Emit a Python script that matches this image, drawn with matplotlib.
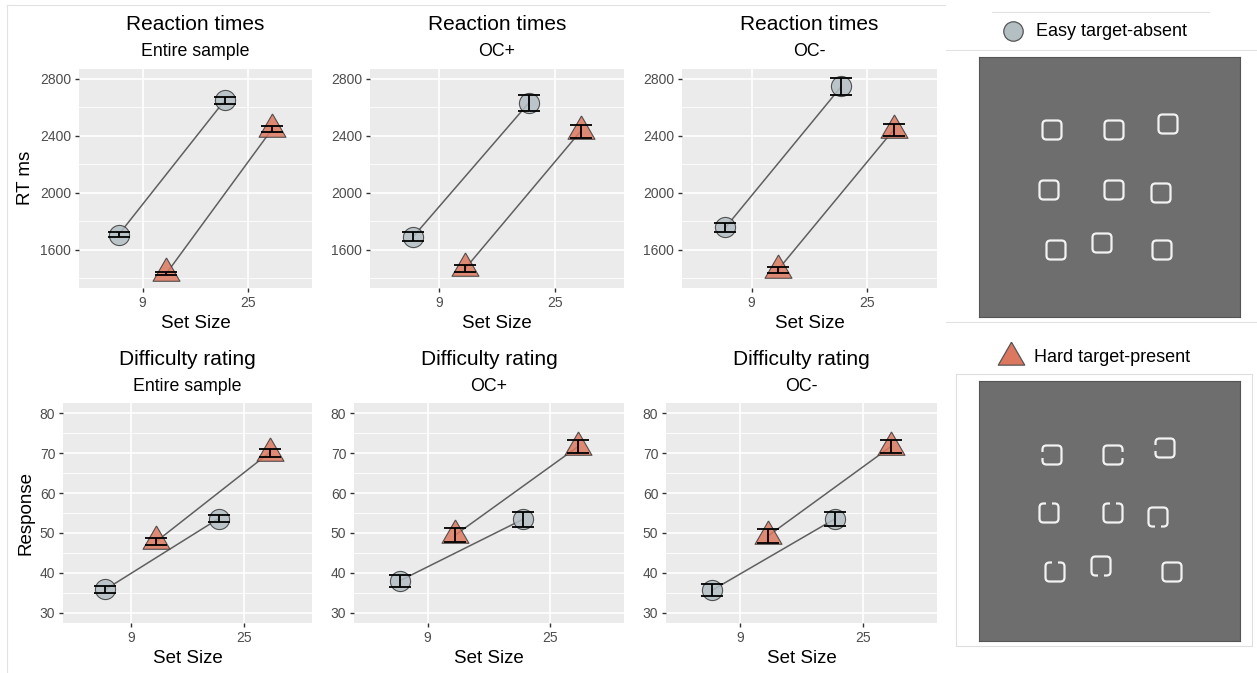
import numpy as np
import matplotlib
matplotlib.use("Agg")
import matplotlib.pyplot as plt
from matplotlib.patches import FancyBboxPatch, Rectangle

# --- Figure size (pixels) ---
W, H = 1257, 673
plt.rcParams['font.family'] = ['Liberation Sans', 'DejaVu Sans']

# --- Data ---
groups = ["Entire sample", "OC+", "OC-"]
set_sizes = ["9", "25"]

# reaction times (ms), one row per group, columns = set size 9 / 25
rt_easy_mean = [[1708, 2649], [1694, 2632], [1758, 2748]]
rt_easy_low = [[1693, 2622], [1663, 2575], [1726, 2690]]
rt_easy_high = [[1724, 2676], [1726, 2688], [1790, 2805]]
rt_hard_mean = [[1435, 2450], [1470, 2434], [1458, 2442]]
rt_hard_low = [[1422, 2430], [1446, 2386], [1435, 2400]]
rt_hard_high = [[1448, 2470], [1495, 2477], [1480, 2484]]

# difficulty rating (response)
diff_easy_mean = [[35.9, 53.6], [38.1, 53.4], [35.7, 53.6]]
diff_easy_low = [[35.0, 52.7], [36.4, 51.5], [34.2, 51.8]]
diff_easy_high = [[36.7, 54.6], [39.6, 55.2], [37.3, 55.3]]
diff_hard_mean = [[47.9, 70.1], [49.5, 71.6], [49.2, 71.6]]
diff_hard_low = [[47.1, 69.1], [47.7, 70.1], [47.5, 70.0]]
diff_hard_high = [[48.7, 71.0], [51.2, 73.2], [50.9, 73.2]]

rt_ticks = [1600, 2000, 2400, 2800]
rt_minor = [1400, 1800, 2200, 2600]
diff_ticks = [30, 40, 50, 60, 70, 80]
diff_minor = [35, 45, 55, 65, 75]

legend_labels = ["Easy target-absent", "Hard target-present"]

# stimulus displays: item centres inside the 261x260 px image, gap side of each item
easy_items_x = [73, 135, 189, 70, 135, 182, 77, 123, 183]
easy_items_y = [73, 73, 67, 133, 133, 136, 193, 186, 193]
hard_items_x = [73, 134, 186, 70, 134, 179, 76, 122, 193]
hard_items_y = [74, 74, 67, 132, 132, 136, 191, 185, 191]
hard_items_gap = ["left", "right", "left", "top", "top", "bottom", "top", "bottom", None]

# --- Styling ---
EASY_FILL = '#b3bfc3'
HARD_FILL = '#dc785f'
PANEL_BG = '#ebebeb'
STIM_BG = '#6e6e6e'
DODGE = 0.225
TRI = [(0, 1), (-0.866, -0.5), (0.866, -0.5), (0, 1)]


def px_axes(fig, l, t, r, b):
    return fig.add_axes([l / W, 1 - b / H, (r - l) / W, (b - t) / H])


def draw_panel(ax, easy, hard, ylim, yticks, yminor):
    ax.set_facecolor(PANEL_BG)
    x = np.arange(1, 3)
    series = [(x - DODGE, easy, 'o', 14.5, EASY_FILL),
              (x + DODGE, hard, TRI, 22.4, HARD_FILL)]
    for xs, (m, lo, hi), mk, ms, fc in series:
        m, lo, hi = np.array(m), np.array(lo), np.array(hi)
        ax.plot(xs, m, color='#5f5f5f', lw=1.1, zorder=2)
        ax.plot(xs, m, ls='none', marker=mk, ms=ms, mfc=fc, mec='#3a3a3a',
                mew=0.8, alpha=0.85, zorder=3)
        ax.errorbar(xs, m, yerr=[m - lo, hi - m], fmt='none', ecolor='black',
                    elinewidth=1.3, capsize=8, capthick=1.3, zorder=4)
    ax.set_xlim(0.4, 2.6)
    ax.set_xticks(x, set_sizes)
    ax.set_ylim(*ylim)
    ax.set_yticks(yticks)
    ax.set_yticks(yminor, minor=True)
    ax.grid(True, which='major', color='white', lw=1.2)
    ax.grid(True, which='minor', axis='y', color='white', lw=0.6)
    ax.set_axisbelow(True)
    for s in ax.spines.values():
        s.set_visible(False)
    ax.tick_params(which='major', length=3, width=1, color='#333333',
                   labelsize=10, labelcolor='#4d4d4d', pad=2.5)
    ax.tick_params(which='minor', length=0)


def draw_stimulus(fig, top, xs, ys, gaps):
    ax = px_axes(fig, 979, top, 1240, top + 260)
    ax.set_facecolor(STIM_BG)
    ax.set_xlim(0, 261)
    ax.set_ylim(260, 0)
    ax.set_xticks([])
    ax.set_yticks([])
    for s in ax.spines.values():
        s.set_color('#555555')
        s.set_linewidth(0.8)
    size = 19
    for cx, cy, gap in zip(xs, ys, gaps):
        ax.add_patch(FancyBboxPatch((cx - size / 2, cy - size / 2), size, size,
                                    boxstyle="round,pad=0,rounding_size=4",
                                    fill=False, ec='#f2f2f2', lw=1.6))
        if gap in ("left", "right"):
            gx = cx - size / 2 if gap == "left" else cx + size / 2
            ax.add_patch(Rectangle((gx - 2.5, cy - 3), 5, 6, fc=STIM_BG, ec='none', zorder=5))
        elif gap in ("top", "bottom"):
            gy = cy - size / 2 if gap == "top" else cy + size / 2
            ax.add_patch(Rectangle((cx - 3, gy - 2.5), 6, 5, fc=STIM_BG, ec='none', zorder=5))


def main():
    fig = plt.figure(figsize=(W / 100, H / 100), dpi=100)
    bg = fig.add_axes([0, 0, 1, 1])
    bg.set_xlim(0, W)
    bg.set_ylim(H, 0)
    bg.axis('off')

    # faint frame lines of the composite
    line_kw = dict(color='#e2e2e2', lw=0.8)
    bg.plot([7, 945], [5, 5], **line_kw)
    bg.plot([7, 7], [5, 673], **line_kw)
    bg.plot([946, 1257], [50, 50], **line_kw)
    bg.plot([946, 1257], [322, 322], **line_kw)
    bg.plot([992, 1209], [12, 12], **line_kw)
    bg.add_patch(Rectangle((956, 374), 296, 272, fill=False, ec='#dedede', lw=0.8))

    top_boxes = [(79, 312), (370, 624), (682, 937)]
    bottom_boxes = [(63, 312), (354, 624), (666, 937)]

    for i, g in enumerate(groups):
        l, r = top_boxes[i]
        ax = px_axes(fig, l, 69, r, 288)
        draw_panel(ax,
                   (rt_easy_mean[i], rt_easy_low[i], rt_easy_high[i]),
                   (rt_hard_mean[i], rt_hard_low[i], rt_hard_high[i]),
                   (1333, 2870), rt_ticks, rt_minor)
        cx = (l + r) / 2
        bg.text(cx, 30, "Reaction times", fontsize=15, ha='center', va='baseline')
        bg.text(cx, 56, g, fontsize=12.8, ha='center', va='baseline')
        bg.text(cx, 328, "Set Size", fontsize=13.5, ha='center', va='baseline')

        l, r = bottom_boxes[i]
        ax = px_axes(fig, l, 403, r, 623)
        draw_panel(ax,
                   (diff_easy_mean[i], diff_easy_low[i], diff_easy_high[i]),
                   (diff_hard_mean[i], diff_hard_low[i], diff_hard_high[i]),
                   (27.5, 82.5), diff_ticks, diff_minor)
        cx = (l + r) / 2
        bg.text(cx, 365, "Difficulty rating", fontsize=15, ha='center', va='baseline')
        bg.text(cx, 391, g, fontsize=12.8, ha='center', va='baseline')
        bg.text(cx, 663, "Set Size", fontsize=13.5, ha='center', va='baseline')

    bg.text(25, 178, "RT ms", fontsize=13.5, rotation=90, ha='center', va='center')
    bg.text(26, 513, "Response", fontsize=13.5, rotation=90, ha='center', va='center')

    # legend keys on the right
    bg.plot([1013], [31], ls='none', marker='o', ms=14, mfc=EASY_FILL, mec='#555555', mew=0.9)
    bg.text(1036, 31, legend_labels[0], fontsize=13, ha='left', va='center')
    bg.plot([1011], [357], ls='none', marker=TRI, ms=22, mfc=HARD_FILL, mec='#555555', mew=0.9)
    bg.text(1034, 358, legend_labels[1], fontsize=13, ha='left', va='center')

    draw_stimulus(fig, 57, easy_items_x, easy_items_y, [None] * len(easy_items_x))
    draw_stimulus(fig, 381, hard_items_x, hard_items_y, hard_items_gap)

    fig.savefig("out.png", dpi=100, facecolor='white')


if __name__ == "__main__":
    main()
